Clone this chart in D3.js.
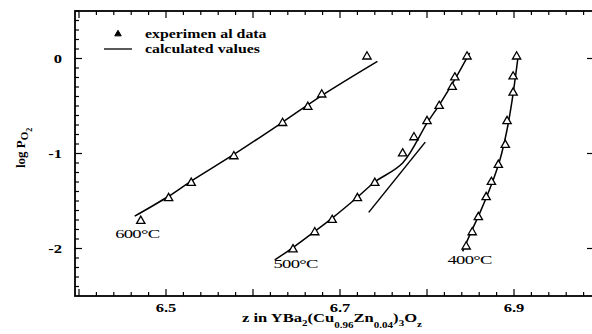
<!DOCTYPE html>
<html>
<head>
<meta charset="utf-8">
<script src="https://cdn.jsdelivr.net/npm/d3@7"></script>
<style>
  body { margin: 0; background: #fff; }
  svg { display: block; font-family: "Liberation Serif", "DejaVu Serif", serif; }
</style>
</head>
<body>
<svg id="chart" width="592" height="334"></svg>
<script>
// experimental points (z, log PO2)
const exp600Z = [6.471, 6.503, 6.529, 6.578, 6.634, 6.663, 6.679, 6.731];
const exp600P = [-1.71, -1.47, -1.31, -1.03, -0.68, -0.51, -0.38, 0.02];
const exp500Z = [6.646, 6.671, 6.691, 6.720, 6.740, 6.772, 6.785, 6.800, 6.814, 6.829, 6.832, 6.846];
const exp500P = [-2.01, -1.83, -1.70, -1.47, -1.31, -1.00, -0.83, -0.66, -0.50, -0.30, -0.20, 0.02];
const exp400Z = [6.903, 6.899, 6.899, 6.892, 6.890, 6.882, 6.874, 6.868, 6.859, 6.852, 6.845];
const exp400P = [0.02, -0.19, -0.36, -0.66, -0.91, -1.12, -1.30, -1.46, -1.67, -1.83, -1.98];

// calculated curves
const calc600Z = [6.464, 6.503, 6.529, 6.578, 6.634, 6.679, 6.743];
const calc600P = [-1.66, -1.45, -1.29, -1.01, -0.67, -0.39, -0.03];
const calc500Z = [6.625, 6.646, 6.671, 6.691, 6.720, 6.740, 6.772, 6.800, 6.814, 6.832, 6.849];
const calc500P = [-2.12, -1.99, -1.82, -1.68, -1.46, -1.30, -1.10, -0.68, -0.49, -0.22, 0.06];
const calc500bZ = [6.733, 6.798];
const calc500bP = [-1.62, -0.88];
const calc400Z = [6.841, 6.851, 6.861, 6.874, 6.884, 6.892, 6.898, 6.905];
const calc400P = [-2.03, -1.82, -1.62, -1.33, -1.06, -0.75, -0.43, 0.04];

const tempLabels = ["600°C", "500°C", "400°C"];
const tempLabelZ = [6.467, 6.649, 6.849];
const tempLabelP = [-1.89, -2.21, -2.16];

const xTickLabels = [6.5, 6.7, 6.9];
const yTickLabels = [0, -1, -2];

const svg = d3.select("#chart");
const fLeft = 75, fRight = 594, fTop = 11, fBottom = 296;
const SX = 1.38; // the scan is stretched sideways

const x = d3.scaleLinear().domain([6.5, 6.9]).range([166, 514]);
const y = d3.scaleLinear().domain([-2.5, 0.5]).range([fBottom, fTop]);

const zip = (a, b) => a.map((v, i) => [v, b[i]]);

// text drawn wider than tall, like the scan
function wideText(px, py, size, bold, anchor) {
  return svg.append("g")
    .attr("transform", `translate(${px},${py}) scale(${SX},1)`)
    .append("text")
    .attr("font-size", size)
    .attr("font-weight", bold ? "bold" : "normal")
    .attr("text-anchor", anchor || "start");
}

// frame
svg.append("rect")
  .attr("x", fLeft).attr("y", fTop)
  .attr("width", fRight - fLeft).attr("height", fBottom - fTop)
  .attr("fill", "none").attr("stroke", "#000").attr("stroke-width", 1.8);

// x ticks every 0.02, majors every 0.1
const xt = d3.range(0, 31).map(i => +(6.4 + i * 0.02).toFixed(2))
  .filter(v => x(v) > fLeft + 2 && x(v) < fRight - 1);
const isMajor = v => Math.abs(v * 10 - Math.round(v * 10)) < 1e-6;
svg.append("g").selectAll("line").data(xt).join("line")
  .attr("x1", d => x(d)).attr("x2", d => x(d))
  .attr("y1", fBottom).attr("y2", d => fBottom - (isMajor(d) ? 7 : 4))
  .attr("stroke", "#000").attr("stroke-width", 1.2);
svg.append("g").selectAll("line").data(xt).join("line")
  .attr("x1", d => x(d)).attr("x2", d => x(d))
  .attr("y1", fTop).attr("y2", d => fTop + (isMajor(d) ? 7 : 4))
  .attr("stroke", "#000").attr("stroke-width", 1.2);

// y ticks every 0.1, majors at integers
const yt = d3.range(0, 30).map(i => +(-2.4 + i * 0.1).toFixed(1));
svg.append("g").selectAll("line").data(yt).join("line")
  .attr("x1", fLeft).attr("x2", d => fLeft + (Number.isInteger(d) ? 7 : 4))
  .attr("y1", d => y(d)).attr("y2", d => y(d))
  .attr("stroke", "#000").attr("stroke-width", 1.2);
svg.append("g").selectAll("line").data(yTickLabels).join("line")
  .attr("x1", fRight).attr("x2", fRight - 7)
  .attr("y1", d => y(d)).attr("y2", d => y(d))
  .attr("stroke", "#000").attr("stroke-width", 1.2);

// tick labels
xTickLabels.forEach(v => wideText(x(v), fBottom + 16, 12, true, "middle").text(v.toFixed(1)));
yTickLabels.forEach(v => wideText(fLeft - 13, y(v) + 4.5, 12, true, "end").text(v === 0 ? "0" : "-" + Math.abs(v)));

// axis titles
const xTitle = wideText(242, 322, 12, true, "start");
xTitle.append("tspan").text("z in YBa");
xTitle.append("tspan").attr("font-size", 8).attr("dy", 4).text("2");
xTitle.append("tspan").attr("dy", -4).text("(Cu");
xTitle.append("tspan").attr("font-size", 8).attr("dy", 6).text("0.96");
xTitle.append("tspan").attr("dy", -6).text("Zn");
xTitle.append("tspan").attr("font-size", 8).attr("dy", 6).text("0.04");
xTitle.append("tspan").attr("dy", -6).text(")");
xTitle.append("tspan").attr("font-size", 8).attr("dy", 4).text("3");
xTitle.append("tspan").attr("dy", -4).text("O");
xTitle.append("tspan").attr("font-size", 8).attr("dy", 5).text("z");

const yTitle = svg.append("text")
  .attr("transform", "translate(25,168) rotate(-90)")
  .attr("font-size", 13).attr("font-weight", "bold");
yTitle.append("tspan").text("log P");
yTitle.append("tspan").attr("font-size", 11).attr("dy", 3).text("O");
yTitle.append("tspan").attr("font-size", 8).attr("dy", 4).text("2");

// calculated curves
const line = d3.line().x(d => x(d[0])).y(d => y(d[1])).curve(d3.curveCatmullRom);
const curves = [zip(calc600Z, calc600P), zip(calc500Z, calc500P), zip(calc500bZ, calc500bP), zip(calc400Z, calc400P)];
svg.append("g").selectAll("path").data(curves).join("path")
  .attr("d", line)
  .attr("fill", "none").attr("stroke", "#000").attr("stroke-width", 1.5);

// experimental triangles
const tri = d3.symbol().type(d3.symbolTriangle).size(30);
const pts = [].concat(zip(exp600Z, exp600P), zip(exp500Z, exp500P), zip(exp400Z, exp400P));
svg.append("g").selectAll("path").data(pts).join("path")
  .attr("d", tri)
  .attr("transform", d => `translate(${x(d[0])},${y(d[1])})`)
  .attr("fill", "#fff").attr("stroke", "#000").attr("stroke-width", 1.3);

// temperature labels
tempLabels.forEach((t, i) =>
  wideText(x(tempLabelZ[i]), y(tempLabelP[i]), 13.5, false, "middle")
    .attr("letter-spacing", -0.5).text(t));

// legend
svg.append("path").attr("d", d3.symbol().type(d3.symbolTriangle).size(18))
  .attr("transform", "translate(118,34)")
  .attr("fill", "#000").attr("stroke", "#000").attr("stroke-width", 1);
svg.append("line").attr("x1", 104).attr("x2", 132).attr("y1", 49).attr("y2", 49)
  .attr("stroke", "#000").attr("stroke-width", 1.3);
wideText(145, 38, 11.5, true).text("experimen al data");
wideText(145, 53, 11.5, true).text("calculated values");
</script>
</body>
</html>
